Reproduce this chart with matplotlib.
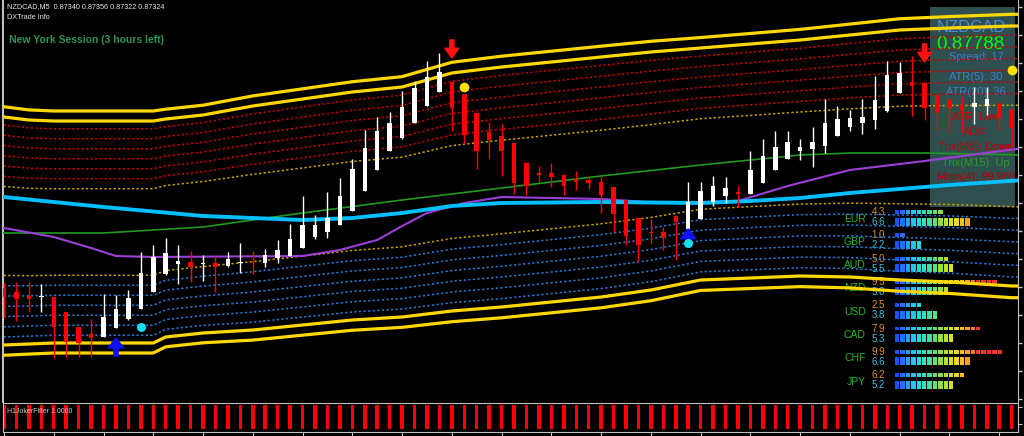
import numpy as np
import matplotlib
matplotlib.use('Agg')
import matplotlib.pyplot as plt
import matplotlib.transforms as mtransforms
from matplotlib.patches import Rectangle

# NZDCAD M5 candles, prices in points (1e-5)
opens = [87628, 87624, 87620, 87619, 87619, 87604, 87589, 87582, 87579, 87588,
         87597, 87607, 87624, 87642, 87652, 87654, 87652, 87653, 87650, 87653,
         87655, 87653, 87658, 87660, 87668, 87679, 87684, 87691, 87705, 87725,
         87746, 87765, 87778, 87793, 87810, 87824, 87834, 87822, 87803, 87784,
         87780, 87773, 87753, 87743, 87743, 87741, 87737, 87736, 87734, 87729,
         87716, 87698, 87684, 87684, 87700, 87687, 87697, 87714, 87720, 87724,
         87722, 87733, 87746, 87757, 87765, 87767, 87770, 87780, 87789, 87793,
         87796, 87805, 87823, 87834, 87833, 87821, 87816, 87811, 87809, 87810,
         87813, 87807]
highs = [87634, 87634, 87634, 87632, 87619, 87604, 87589, 87597, 87622, 87621,
         87626, 87664, 87671, 87678, 87671, 87665, 87661, 87660, 87664, 87673,
         87665, 87667, 87676, 87692, 87720, 87701, 87724, 87738, 87757, 87786,
         87799, 87804, 87825, 87835, 87855, 87863, 87834, 87822, 87803, 87794,
         87792, 87773, 87754, 87750, 87753, 87742, 87745, 87740, 87740, 87729,
         87716, 87698, 87697, 87689, 87701, 87734, 87734, 87740, 87739, 87730,
         87765, 87777, 87785, 87785, 87777, 87789, 87817, 87810, 87806, 87817,
         87840, 87855, 87854, 87860, 87833, 87821, 87819, 87819, 87829, 87829,
         87813, 87807]
lows = [87599, 87595, 87604, 87604, 87558, 87559, 87559, 87559, 87579, 87588,
        87596, 87607, 87624, 87641, 87632, 87634, 87635, 87624, 87649, 87643,
        87642, 87649, 87653, 87660, 87668, 87677, 87678, 87691, 87705, 87725,
        87746, 87765, 87777, 87793, 87810, 87824, 87785, 87772, 87747, 87757,
        87740, 87722, 87721, 87734, 87729, 87721, 87726, 87727, 87703, 87683,
        87671, 87655, 87672, 87666, 87656, 87687, 87697, 87710, 87713, 87709,
        87722, 87733, 87746, 87757, 87756, 87749, 87763, 87780, 87785, 87782,
        87787, 87804, 87823, 87800, 87796, 87786, 87783, 87784, 87792, 87801,
        87786, 87769]
closes = [87619, 87617, 87617, 87620, 87589, 87574, 87573, 87578, 87599, 87607,
          87618, 87643, 87659, 87663, 87655, 87649, 87653, 87649, 87657, 87654,
          87654, 87661, 87666, 87677, 87691, 87691, 87698, 87720, 87747, 87768,
          87785, 87793, 87809, 87828, 87839, 87844, 87808, 87781, 87765, 87776,
          87765, 87733, 87730, 87741, 87739, 87730, 87734, 87733, 87721, 87702,
          87680, 87671, 87683, 87678, 87694, 87714, 87725, 87730, 87728, 87722,
          87746, 87760, 87769, 87774, 87769, 87774, 87793, 87797, 87798, 87799,
          87816, 87841, 87843, 87830, 87808, 87803, 87808, 87805, 87813, 87817,
          87798, 87788]

# envelope channel: middle line and half width (points) at bar indexes
band_idx = [-1, 0, 2, 4, 12, 13, 16, 20, 24, 28, 32, 36, 40, 44, 48, 52, 56, 60, 64, 68, 72, 76, 81, 82]
band_mid = [87686, 87685, 87684, 87684, 87684, 87688, 87692, 87698, 87704, 87710, 87714, 87724,
            87729, 87734, 87739, 87745, 87752, 87755, 87758, 87760, 87761, 87761, 87760, 87760]
band_half = [114, 114, 112, 111, 111, 109, 109, 112, 113, 114, 115, 119,
             120, 120, 120, 119, 116, 117, 118, 121, 125, 127, 130, 130]
dotted_levels = [0.39, 0.48, 0.57, 0.66, 0.75, 0.84, 0.93]
solid_levels = [1.0, 1.09]

# moving averages
slow_idx = [-1, 0, 8, 16, 24, 28, 32, 36, 40, 48, 56, 60, 64, 68, 72, 76, 82]
slow_ma = [87720, 87719, 87709, 87700, 87696, 87698, 87703, 87710, 87713, 87714, 87713, 87715,
           87718, 87723, 87727, 87731, 87736]
mid_idx = [-1, 8, 16, 24, 32, 40, 48, 56, 64, 68, 74, 82]
mid_ma = [87683, 87683, 87689, 87703, 87716, 87728, 87740, 87751, 87761, 87763, 87763, 87761]
fast_idx = [-1, 0, 4, 7, 9, 12, 24, 27, 30, 32, 34, 37, 40, 48, 53, 59, 63, 68, 74, 82]
fast_ma = [87689, 87688, 87679, 87668, 87660, 87659, 87660, 87666, 87676, 87690, 87703, 87713,
           87719, 87717, 87713, 87715, 87730, 87746, 87755, 87768]

# signals
sell_idx = [36, 74]
sell_tip = [87858, 87854]
buy_idx = [9, 55]
buy_tip = [87578, 87687]
exit_sell_idx = [37, 81]
exit_sell_px = [87829, 87846]
exit_buy_idx = [11, 55]
exit_buy_px = [87589, 87673]

# H1JokerFilter subwindow
joker_filter = [1.0] * 82

# currency strength meter
currencies = ['EUR', 'GBP', 'AUD', 'NZD', 'USD', 'CAD', 'CHF', 'JPY']
strength_fast = [4.3, 1.0, 5.0, 9.5, 2.5, 7.9, 9.9, 6.2]
strength_slow = [6.6, 2.2, 5.5, 5.0, 3.8, 5.3, 6.6, 5.2]

info_lines = [('Spread: 17', '#3C7FD2'), ('ATR(5): 30', '#3C7FD2'), ('ATR(20): 36', '#3C7FD2'),
              ('ATR: Low', '#D00000'), ('ADX:', '#D00000'), ('Trix(M5): Down', '#C00000'),
              ('Trix(M15): Up', '#22A022'), ('Mom(4): 99.989', '#B00000')]

seg_colors = ['#2050F0', '#2070F8', '#20A0FF', '#20C8F0', '#20D8E0', '#30E0C0', '#40E0A0',
              '#60E070', '#90E040', '#B8E030', '#D8E020', '#F0D820', '#F8C020', '#F8A028',
              '#F88030', '#FF3030', '#FF3030', '#FF3030', '#FF3030', '#FF3030']

W, H = 1024, 436
fig = plt.figure(figsize=(W / 100, H / 100), dpi=100, facecolor='black')
ax = fig.add_axes([3 / W, 34 / H, 1015 / W, 402 / H])
ax.set_facecolor('black')
xlim = (-0.08, 81.51)

# info panel (background object)
ax.add_patch(Rectangle((930 / W, 1 - 207 / H), 85 / W, 200 / H, transform=fig.transFigure,
                       facecolor='#2F4F4F', edgecolor='none', zorder=0.5, clip_on=False))
tf = fig.transFigure
ax.text(971 / W, 1 - 27 / H, 'NZDCAD', color='#4A8AD8', fontsize=12, family='Liberation Sans',
        ha='center', va='center', transform=tf, zorder=0.6)
ax.text(970 / W, 1 - 44 / H, '0.87788', color='#00FF00', fontsize=13.5, family='Liberation Sans',
        ha='center', va='center', transform=tf, zorder=0.6)
info_y = [57, 77, 92, 117, 132, 147, 163, 177]
for (txt, col), yy in zip(info_lines, info_y):
    ax.text(976 / W, 1 - yy / H, txt, color=col, fontsize=8, family='Liberation Sans',
            ha='center', va='center', transform=tf, zorder=0.6)

# currency meter, drawn behind the chart lines
meter_tr = mtransforms.Affine2D().scale(10.8 / W, -23.3 / H).translate(895 / W, 1 - 212 / H) + tf
for r, (cur, vf, vs) in enumerate(zip(currencies, strength_fast, strength_slow)):
    ax.text(-2.7, r + 0.28, cur, color='#28B428', fontsize=7.5, family='Liberation Sans',
            ha='right', va='center', transform=meter_tr, zorder=0.6)
    ax.text(-2.15, r, f'{vf:.1f}', color='#E0902A', fontsize=7, family='Liberation Sans',
            ha='left', va='center', transform=meter_tr, zorder=0.6)
    ax.text(-2.15, r + 0.43, f'{vs:.1f}', color='#40C0E0', fontsize=7, family='Liberation Sans',
            ha='left', va='center', transform=meter_tr, zorder=0.6)
    for val, yc, hh in ((vf, r, 0.17), (vs, r + 0.41, 0.34)):
        for j in range(int(np.ceil(val * 2))):
            ax.add_patch(Rectangle((j * 0.5, yc - hh / 2), 0.41, hh, transform=meter_tr,
                                   facecolor=seg_colors[j], edgecolor='none', zorder=0.7,
                                   clip_on=False))

# channel lines
bi = np.array(band_idx)
bm = np.array(band_mid, dtype=float)
bh = np.array(band_half, dtype=float)
for n, k in enumerate(dotted_levels):
    up_col = '#C8A000' if n == 0 else '#C80000'
    dn_col = '#C8A000' if n == 0 else '#2878D0'
    ax.plot(bi, bm + k * bh, color=up_col, lw=1.1, ls=(0, (1.5, 1.5)), zorder=2)
    ax.plot(bi, bm - k * bh, color=dn_col, lw=1.1, ls=(0, (1.5, 1.5)), zorder=2)
for k in solid_levels:
    ax.plot(bi, bm + k * bh, color='#FFD700', lw=2.3, zorder=3)
    ax.plot(bi, bm - k * bh, color='#FFD700', lw=2.3, zorder=3)

ax.plot(mid_idx, mid_ma, color='#1E9A1E', lw=1.2, zorder=3)
ax.plot(fast_idx, fast_ma, color='#9B3FD8', lw=1.5, zorder=3)
ax.plot(slow_idx, slow_ma, color='#00BFFF', lw=2.8, zorder=3)

# candles
o = np.array(opens)
hi = np.array(highs)
lo = np.array(lows)
c = np.array(closes)
x = np.arange(len(o))
bull = c > o
body_bot = np.minimum(o, c)
body_h = np.maximum(np.abs(c - o), 1.3)
for mask, col in ((bull, 'white'), (~bull, '#FF0000')):
    ax.vlines(x[mask], lo[mask], hi[mask], color=col, lw=1, zorder=5)
    ax.bar(x[mask], body_h[mask], bottom=body_bot[mask], width=0.36, color=col, lw=0, zorder=6)

# signals
for i, p in zip(sell_idx, sell_tip):
    ax.annotate('', xy=(i, p), xytext=(0, 13), textcoords='offset points', zorder=7,
                arrowprops=dict(facecolor='#FF1010', edgecolor='#FF1010', width=3,
                                headwidth=10, headlength=7))
for i, p in zip(buy_idx, buy_tip):
    ax.annotate('', xy=(i, p), xytext=(0, -13), textcoords='offset points', zorder=7,
                arrowprops=dict(facecolor='#1010FF', edgecolor='#1010FF', width=3,
                                headwidth=11, headlength=7))
ax.plot(exit_sell_idx, exit_sell_px, 'o', color='#FFE000', ms=7, mew=0, zorder=8)
ax.plot(exit_buy_idx, exit_buy_px, 'o', color='#10E0F0', ms=6.5, mew=0, zorder=8)

ax.set_xlim(*xlim)
ax.set_ylim(87514, 87916)
# price scale sits beyond the picture's right edge: ticks only
yt = np.arange(87909, 87510, -28)
ax.yaxis.tick_right()
ax.set_yticks(yt)
ax.set_yticklabels([])
ax.tick_params(axis='y', colors='#C0C0C0', length=3, width=1, direction='out')
ax.tick_params(axis='x', bottom=False, labelbottom=False)
for s in ('top', 'bottom'):
    ax.spines[s].set_visible(False)
ax.spines['left'].set_color('#C0C0C0')
ax.spines['left'].set_linewidth(1.5)
ax.spines['right'].set_color('#C0C0C0')

# header texts
fig.text(7 / W, 1 - 7 / H, 'NZDCAD,M5  0.87340 0.87356 0.87322 0.87324', color='#E6E6E6',
         fontsize=5.2, family='Liberation Sans', va='center')
fig.text(7 / W, 1 - 17.5 / H, 'DXTrade Info', color='#E6E6E6', fontsize=5.2,
         family='Liberation Sans', va='center')
fig.text(9 / W, 1 - 40 / H, 'New York Session (3 hours left)', color='#2E9455', fontsize=7.5,
         fontweight='bold', family='Liberation Sans', va='center')

# filter subwindow
ax2 = fig.add_axes([3 / W, 4 / H, 1015 / W, 29 / H])
ax2.set_facecolor('black')
ax2.bar(x, joker_filter, width=0.28, color='#FF0000', lw=0)
ax2.set_xlim(*xlim)
ax2.set_ylim(-0.12, 1.08)
ax2.set_xticks(x[::4])
ax2.set_xticklabels([])
ax2.tick_params(axis='x', colors='#C0C0C0', length=3, direction='out')
ax2.yaxis.tick_right()
ax2.set_yticks([0.2, 0.9])
ax2.set_yticklabels([])
ax2.tick_params(axis='y', colors='#C0C0C0', length=3)
for s in ax2.spines.values():
    s.set_color('#C0C0C0')
ax2.text(7 / W, 1 - 411 / H, 'H1JokerFilter 1.0000', color='#D0D0D0', fontsize=5,
         family='Liberation Sans', va='center', transform=tf)

fig.savefig('out.png', dpi=100, facecolor='black')
